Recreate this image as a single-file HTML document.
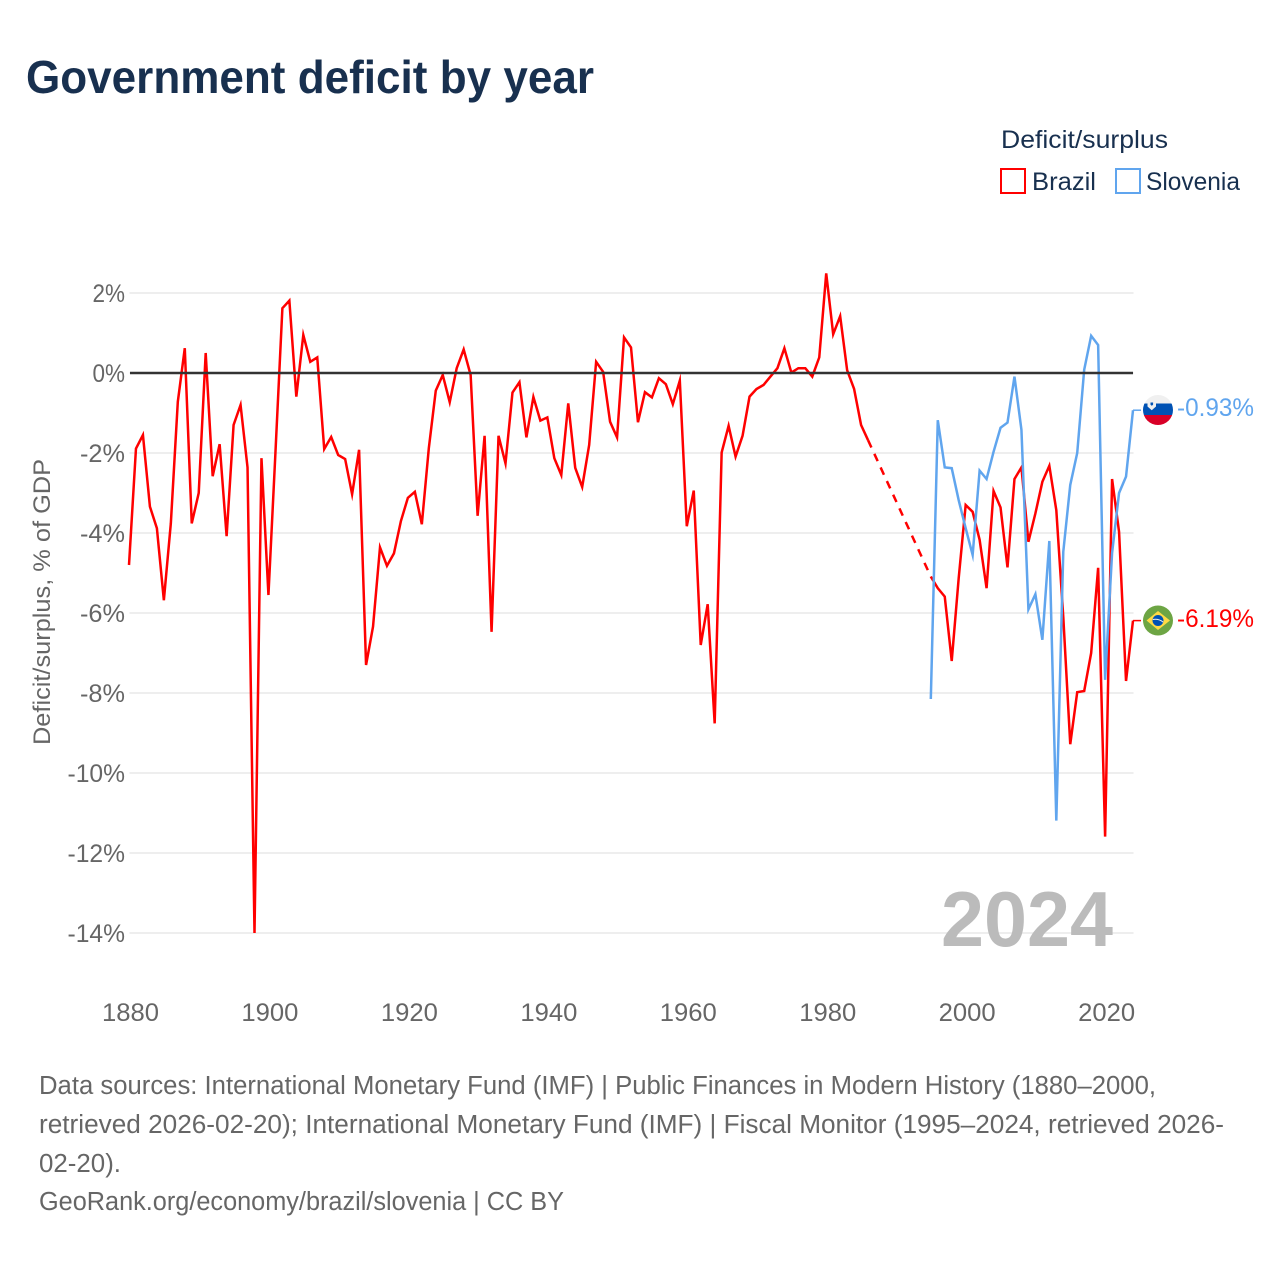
<!DOCTYPE html>
<html lang="en">
<head>
<meta charset="utf-8">
<title>Government deficit by year</title>
<style>
html,body{margin:0;padding:0;background:#fff;}
svg{display:block;font-family:"Liberation Sans",sans-serif;}
</style>
</head>
<body>
<svg id="chart" xmlns="http://www.w3.org/2000/svg" width="1280" height="1280" viewBox="0 0 1280 1280">
  <rect x="0" y="0" width="1280" height="1280" fill="#ffffff"/>
  <text x="26" y="93" font-size="46" font-weight="700" fill="#18304f" textLength="568" lengthAdjust="spacingAndGlyphs">Government deficit by year</text>

  <g>
    <text x="1001" y="148" font-size="25" fill="#18304f" textLength="167" lengthAdjust="spacingAndGlyphs">Deficit/surplus</text>
    <rect x="1001" y="169" width="24" height="24" fill="#ffffff" stroke="#ff0000" stroke-width="2"/>
    <text x="1032" y="190" font-size="25" fill="#18304f" textLength="64" lengthAdjust="spacingAndGlyphs">Brazil</text>
    <rect x="1116" y="169" width="24" height="24" fill="#ffffff" stroke="#60a5ee" stroke-width="2"/>
    <text x="1146" y="190" font-size="25" fill="#18304f" textLength="94" lengthAdjust="spacingAndGlyphs">Slovenia</text>
  </g>

  <g id="grid"></g>
  <g id="yticks"></g>
  <g id="xticks"></g>
  <text transform="translate(50,745) rotate(-90)" font-size="24.5" fill="#666666" textLength="286" lengthAdjust="spacingAndGlyphs">Deficit/surplus, % of GDP</text>

  <text x="941" y="946" font-size="78" font-weight="700" fill="#bbbbbb" textLength="172" lengthAdjust="spacingAndGlyphs">2024</text>

  <g id="series"></g>
  <line id="zero" stroke="#333333" stroke-width="2.4"/>

  <defs>
    <clipPath id="clip-si"><circle cx="1158" cy="410" r="15"/></clipPath>
    <clipPath id="clip-br"><circle cx="1158" cy="620.5" r="15"/></clipPath>
  </defs>
  <g clip-path="url(#clip-si)">
    <rect x="1143" y="395" width="30" height="8.5" fill="#f0f0f0"/>
    <rect x="1143" y="403.5" width="30" height="11.5" fill="#0052b4"/>
    <rect x="1143" y="415" width="30" height="11" fill="#d80027"/>
    <path d="M1147.5 402h8.5v4.5l-4.25 3.8-4.25-3.8z" fill="#f0f0f0"/>
    <path d="M1150.5 402.5h2.6v2.2l-1.3 1-1.3-1z" fill="#0052b4"/>
  </g>
  <g clip-path="url(#clip-br)">
    <rect x="1143" y="605" width="30" height="31" fill="#6da544"/>
    <path d="M1158 611L1170 620.5L1158 630L1146.5 620.5Z" fill="#ffda44"/>
    <circle cx="1158" cy="620.5" r="5.5" fill="#0052b4"/>
    <path d="M1152.8 619.5c3.6-.6 7.4.3 10.4 2.6" fill="none" stroke="#f0f0f0" stroke-width="1"/>
  </g>
  <text x="1177" y="416" font-size="25" fill="#60a5ee" textLength="77" lengthAdjust="spacingAndGlyphs">-0.93%</text>
  <text x="1177" y="627" font-size="25" fill="#ff0000" textLength="77" lengthAdjust="spacingAndGlyphs">-6.19%</text>

  <g fill="#666666" font-size="25.5">
    <text x="39" y="1094" textLength="1117" lengthAdjust="spacingAndGlyphs">Data sources: International Monetary Fund (IMF) | Public Finances in Modern History (1880–2000,</text>
    <text x="39" y="1133" textLength="1185" lengthAdjust="spacingAndGlyphs">retrieved 2026-02-20); International Monetary Fund (IMF) | Fiscal Monitor (1995–2024, retrieved 2026-</text>
    <text x="39" y="1172" textLength="82" lengthAdjust="spacingAndGlyphs">02-20).</text>
    <text x="39" y="1210" textLength="525" lengthAdjust="spacingAndGlyphs">GeoRank.org/economy/brazil/slovenia | CC BY</text>
  </g>
</svg>
<script>
const xTickYears = [1880, 1900, 1920, 1940, 1960, 1980, 2000, 2020];
const yTickValues = [2, 0, -2, -4, -6, -8, -10, -12, -14];
const brazilStartYear = 1880;
const brazilValues = [
  -4.8,-1.89,-1.55,-3.34,-3.88,-5.68,-3.76,-0.72,0.62,-3.76,
  -3.0,0.5,-2.58,-1.78,-4.08,-1.3,-0.8,-2.36,-14.0,-2.13,
  -5.55,-2.0,1.62,1.81,-0.59,0.95,0.28,0.39,-1.9,-1.6,
  -2.05,-2.15,-3.03,-1.92,-7.3,-6.34,-4.36,-4.82,-4.51,-3.7,
  -3.12,-2.97,-3.78,-1.88,-0.44,-0.05,-0.73,0.12,0.59,-0.05,
  -3.57,-1.57,-6.47,-1.57,-2.26,-0.49,-0.23,-1.61,-0.6,-1.19,
  -1.11,-2.13,-2.55,-0.76,-2.37,-2.85,-1.8,0.28,0.03,-1.22,
  -1.61,0.89,0.64,-1.23,-0.48,-0.61,-0.13,-0.28,-0.78,-0.19,
  -3.83,-2.94,-6.8,-5.78,-8.76,-1.99,-1.32,-2.09,-1.57,-0.59,
  -0.4,-0.3,-0.09,0.12,0.62,0.01,0.12,0.12,-0.09,0.39,
  2.49,0.97,1.42,0.07,-0.4,-1.3,-1.68,
  null,null,null,null,null,null,null,null,
  -5.09,-5.38,-5.59,-7.2,-5.13,-3.3,-3.47,-4.17,-5.38,-2.95,
  -3.36,-4.86,-2.65,-2.36,-4.22,-3.51,-2.72,-2.32,-3.43,-6.1,
  -9.28,-7.98,-7.95,-7.0,-4.87,-11.59,-2.65,-3.97,-7.7,-6.19
];
const sloveniaStartYear = 1995;
const sloveniaValues = [
  -8.15,-1.18,-2.36,-2.38,-3.18,-3.88,-4.55,-2.44,-2.65,-1.97,
  -1.37,-1.24,-0.09,-1.42,-5.91,-5.53,-6.67,-4.2,-11.19,-4.47,
  -2.8,-2.0,0.08,0.93,0.7,-7.67,-4.5,-3.0,-2.59,-0.93
];

function xScale(year) { return 129 + (year - 1880) * (1133 - 129) / (2024 - 1880); }
function yScale(value) { return 373 - value * 40; }
const NS = 'http://www.w3.org/2000/svg';
function make(tag, attrs, parent) {
  const el = document.createElementNS(NS, tag);
  for (const k in attrs) el.setAttribute(k, attrs[k]);
  parent.appendChild(el);
  return el;
}
const grid = document.getElementById('grid');
const yticks = document.getElementById('yticks');
const xticks = document.getElementById('xticks');
const seriesG = document.getElementById('series');

yTickValues.forEach(function (v) {
  const g = make('line', {x1: 129.5, x2: 1133.5, y1: yScale(v), y2: yScale(v), stroke: '#e8e8e8', 'stroke-width': 1.5}, grid);
  
  
  const t = make('text', {x: 125, y: yScale(v) + 9, 'text-anchor': 'end', 'font-size': 25, fill: '#666666'}, yticks);
  
  
  t.textContent = v + '%';
  t.setAttribute('textLength', String(v).length * 12.5 + 20);
  t.setAttribute('lengthAdjust', 'spacingAndGlyphs');
});
xTickYears.forEach(function (y) {
  const t = make('text', {x: xScale(y) + 1.5, y: 1021, 'text-anchor': 'middle', 'font-size': 25, fill: '#666666', textLength: 57, lengthAdjust: 'spacingAndGlyphs'}, xticks);
  
  
  t.textContent = y;
});
const zero = document.getElementById('zero');
zero.setAttribute('x1', xScale(1880) + 1);
zero.setAttribute('x2', xScale(2024));
zero.setAttribute('y1', yScale(0));
zero.setAttribute('y2', yScale(0));

function drawSeries(values, startYear, color, name) {
  let d = '';
  let pen = false;
  let lastPoint = null;
  let lastIdx = -1;
  let dash = '';
  values.forEach(function (v, i) {
    if (v === null) { pen = false; return; }
    const px = xScale(startYear + i).toFixed(2) + ' ' + yScale(v).toFixed(2);
    if (lastPoint && i - lastIdx > 1) dash += 'M' + lastPoint + 'L' + px;
    d += (pen ? 'L' : 'M') + px;
    pen = true;
    lastPoint = px;
    lastIdx = i;
  });
  const path = make('path', {d: d, fill: 'none', stroke: color, 'stroke-width': 2.5, 'stroke-linejoin': 'miter', 'stroke-miterlimit': 6}, seriesG);
  
  
  if (dash) {
    const dp = make('path', {d: dash, fill: 'none', stroke: color, 'stroke-width': 2.5, 'stroke-dasharray': '8 7'}, seriesG);
    
    
  }
  const lastVal = values[values.length - 1];
  const conn = make('line', {x1: xScale(startYear + values.length - 1), x2: 1141, y1: yScale(lastVal), y2: yScale(lastVal), stroke: color, 'stroke-width': 1.5}, seriesG);
  
  
}
drawSeries(brazilValues, brazilStartYear, '#ff0000', 'brazil');
drawSeries(sloveniaValues, sloveniaStartYear, '#60a5ee', 'slovenia');
</script>
</body>
</html>
